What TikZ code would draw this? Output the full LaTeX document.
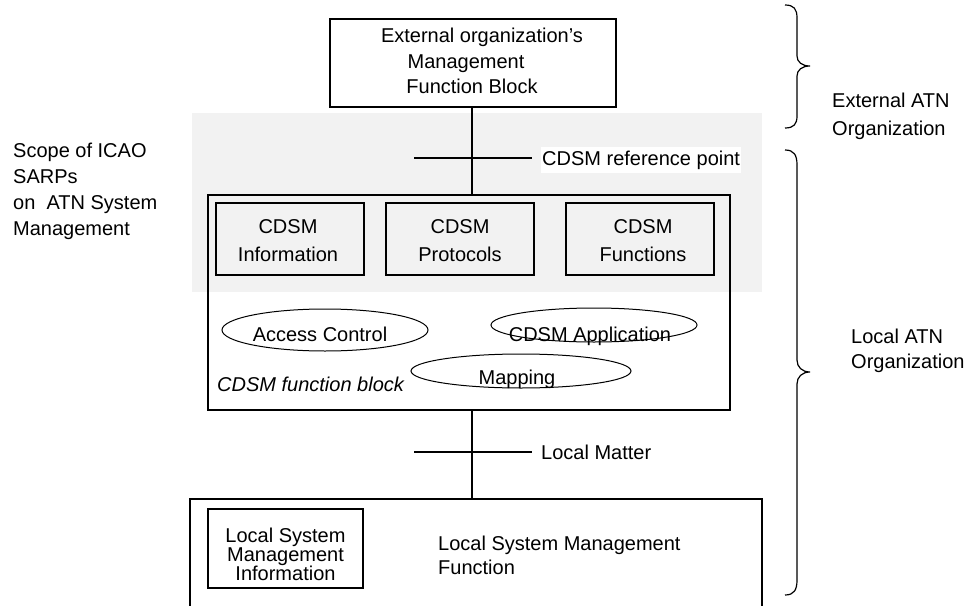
\documentclass[tikz,border=0pt]{standalone}
\usepackage{fontspec}
\setmainfont{Liberation Sans}
\usetikzlibrary{shapes.geometric}
\definecolor{graybg}{HTML}{F2F2F2}
\begin{document}
\begin{tikzpicture}[x=1pt,y=-1pt,
  box/.style={draw, line width=1.3pt, inner sep=0pt, outer sep=0pt, anchor=north west},
  ell/.style={draw, ellipse, line width=1pt, inner sep=0pt, outer sep=0pt},
  txt/.style={font=\fontsize{20}{26}\selectfont, inner sep=0pt, anchor=base},
  txtl/.style={txt, anchor=base west},
  conn/.style={line width=1.3pt},
  brace/.style={line width=1.2pt}]
\useasboundingbox (0,0) rectangle (969,605);
\clip (0,0) rectangle (969,605);
% gray scope region
\fill[graybg] (192,113) rectangle (762,292);
% top box
\node[box, minimum width=286pt, minimum height=88pt] (top) at (330,19) {};
\node[txt] (top1) at (482,42) {External organization's};
\node[txt] (top2) at (466,68) {Management};
\node[txt] (top3) at (472,93) {Function Block};
% function block
\node[box, minimum width=522pt, minimum height=215pt] (fb) at (208,195) {};
\node[box, minimum width=148pt, minimum height=72pt] (info) at (216,203) {};
\node[box, minimum width=148pt, minimum height=72pt] (prot) at (386,203) {};
\node[box, minimum width=148pt, minimum height=72pt] (func) at (566,203) {};
\node[txt] (info1) at (288,233) {CDSM};
\node[txt] (info2) at (288,261) {Information};
\node[txt] (prot1) at (460,233) {CDSM};
\node[txt] (prot2) at (460,261) {Protocols};
\node[txt] (func1) at (643,233) {CDSM};
\node[txt] (func2) at (643,261) {Functions};
% ellipses
\node[ell, minimum width=206pt, minimum height=42pt] (acc) at (325,330) {};
\node[txt] (acct) at (320,341) {Access Control};
\node[ell, minimum width=206pt, minimum height=34pt] (app) at (594,325) {};
\node[txt] (appt) at (590,341) {CDSM Application};
\node[ell, minimum width=220pt, minimum height=34pt] (map) at (521,371) {};
\node[txt] (mapt) at (517,384) {Mapping};
\node[txtl, font=\fontsize{20}{26}\selectfont\itshape] (fbt) at (217,391) {CDSM function block};
% bottom box
\node[box, minimum width=572pt, minimum height=130pt] (bot) at (190,499) {};
\node[box, minimum width=155pt, minimum height=79pt] (lsmi) at (208,509) {};
\node[txt] (lsmi1) at (285.5,542) {Local System};
\node[txt] (lsmi2) at (285.5,561) {Management};
\node[txt] (lsmi3) at (285.5,580) {Information};
\node[txtl] (lsmf1) at (438,550) {Local System Management};
\node[txtl] (lsmf2) at (438,574) {Function};
% connectors
\coordinate (vx) at (472,0);
\draw[conn] (top.south -| vx) -- (fb.north -| vx);
\draw[conn] (fb.south -| vx) -- (bot.north -| vx);
\coordinate (t1a) at (414,158);
\coordinate (t1b) at (532,158);
\draw[conn] (t1a) -- (t1b);
\node[txtl, fill=white, inner ysep=4pt, inner xsep=1pt] (ref) at (541,165) {CDSM reference point};
\coordinate (t2a) at (414,452);
\coordinate (t2b) at (532,452);
\draw[conn] (t2a) -- (t2b);
\node[txtl] (lm) at (541,459) {Local Matter};
% left text
\node[txtl] (s1) at (13,157) {Scope of ICAO};
\node[txtl] (s2) at (13,183) {SARPs};
\node[txtl] (s3) at (13,209) {on~ ATN System};
\node[txtl] (s4) at (13,235) {Management};
% braces
\draw[brace] (785,5) .. controls (794,5) and (797,9) .. (797,18) -- (797,56)
  .. controls (797,62) and (802,66) .. (810,66)
  .. controls (802,66) and (797,70) .. (797,76) -- (797,116)
  .. controls (797,124) and (794,128) .. (785,128);
\draw[brace] (785,150) .. controls (794,150) and (797,155) .. (797,165) -- (797,360)
  .. controls (797,367) and (802,372) .. (810,372)
  .. controls (802,372) and (797,377) .. (797,384) -- (797,580)
  .. controls (797,590) and (794,595) .. (785,595);
\node[txtl] (ext1) at (832,107) {External ATN};
\node[txtl] (ext2) at (832,135) {Organization};
\node[txtl] (loc1) at (851,343) {Local ATN};
\node[txtl] (loc2) at (851,368) {Organization};
\end{tikzpicture}
\end{document}
